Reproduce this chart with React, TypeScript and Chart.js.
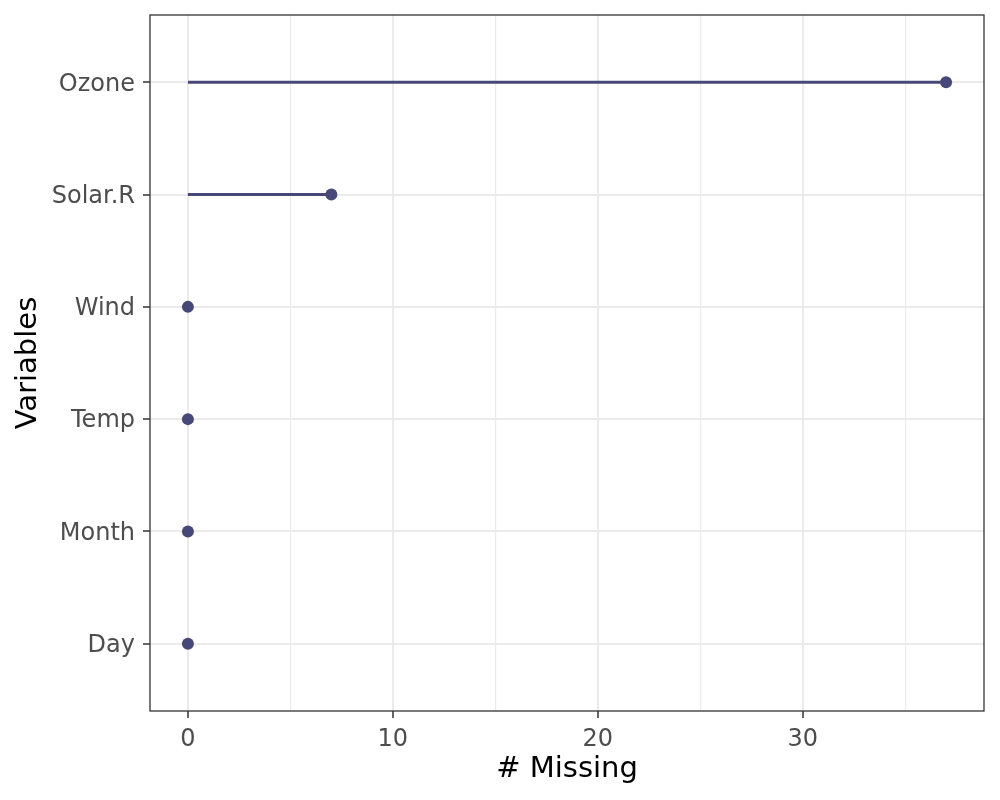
import React, { useEffect, useRef } from "react";
import { Chart, registerables } from "chart.js";

Chart.register(...registerables);

const variables = ["Ozone", "Solar.R", "Wind", "Temp", "Month", "Day"];
const nMissing = [37, 7, 0, 0, 0, 0];
const xTicks = [0, 5, 10, 15, 20, 25, 30, 35];
const xLabelTicks = [0, 10, 20, 30];

const LOLLI = "#484878";
const FONT = "'DejaVu Sans', sans-serif";

const borderPlugin = {
  id: "panelBorder",
  afterDatasetsDraw(chart: any) {
    const { ctx, chartArea } = chart;
    ctx.save();
    ctx.strokeStyle = "#333333";
    ctx.lineWidth = 1.3;
    ctx.strokeRect(chartArea.left, chartArea.top, chartArea.right - chartArea.left, chartArea.bottom - chartArea.top);
    ctx.restore();
  },
};

export default function App() {
  const ref = useRef<HTMLCanvasElement>(null);

  useEffect(() => {
    if (!ref.current) return;
    const segments = variables.map((v, i) => ({
      type: "line" as const,
      label: v,
      data: [
        { x: 0, y: i },
        { x: nMissing[i], y: i },
      ],
      showLine: true,
      borderColor: LOLLI,
      borderWidth: 3,
      pointRadius: 0,
    }));
    const points = {
      type: "scatter" as const,
      label: "points",
      data: variables.map((v, i) => ({ x: nMissing[i], y: i })),
      pointRadius: 6,
      pointBackgroundColor: LOLLI,
      pointBorderWidth: 0,
      backgroundColor: LOLLI,
    };
    const chart = new Chart(ref.current, {
      type: "scatter",
      data: { datasets: [...segments, points] as any },
      options: {
        animation: false,
        responsive: false,
        devicePixelRatio: 1,
        layout: { padding: { top: 15, right: 16, left: 0, bottom: 0 } },
        plugins: { legend: { display: false }, tooltip: { enabled: false } },
        scales: {
          x: {
            type: "linear",
            min: -1.85,
            max: 38.85,
            afterBuildTicks: (s: any) => {
              s.ticks = xTicks.map((v) => ({ value: v }));
            },
            afterFit: (s: any) => {
              s.height = 89;
              s.paddingLeft = 0;
              s.paddingRight = 0;
            },
            border: { display: false },
            grid: {
              color: "#EBEBEB",
              lineWidth: (c: any) => (xLabelTicks.includes(c.tick?.value) ? 2 : 1.2),
              tickColor: (c: any) => (xLabelTicks.includes(c.tick?.value) ? "#333333" : "rgba(0,0,0,0)"),
              tickLength: 7,
              tickWidth: 1.5,
            },
            ticks: {
              autoSkip: false,
              maxRotation: 0,
              padding: 7,
              color: "#4D4D4D",
              font: { family: FONT, size: 24 },
              callback: (v: any) => (xLabelTicks.includes(Number(v)) ? String(v) : ""),
            },
            title: {
              display: true,
              text: "# Missing",
              color: "#000000",
              font: { family: FONT, size: 29 },
              padding: { top: 0, bottom: 13 },
            },
          },
          y: {
            type: "linear",
            min: -0.6,
            max: 5.6,
            reverse: true,
            afterBuildTicks: (s: any) => {
              s.ticks = variables.map((_, i) => ({ value: i }));
            },
            afterFit: (s: any) => {
              s.width = 150;
              s.paddingTop = 0;
              s.paddingBottom = 0;
            },
            border: { display: false },
            grid: {
              color: "#EBEBEB",
              lineWidth: 2,
              tickColor: "#333333",
              tickLength: 7,
              tickWidth: 1.5,
            },
            ticks: {
              autoSkip: false,
              padding: 8,
              labelOffset: 2,
              color: "#4D4D4D",
              font: { family: FONT, size: 24 },
              callback: (v: any) => variables[Number(v)] ?? "",
            },
            title: {
              display: true,
              text: "Variables",
              color: "#000000",
              font: { family: FONT, size: 29 },
              padding: { top: 11, bottom: 0 },
            },
          },
        },
      },
      plugins: [borderPlugin],
    });
    return () => chart.destroy();
  }, []);

  return (
    <div style={{ position: "absolute", left: 0, top: 0, width: 1000, height: 800, background: "#fff" }}>
      <canvas ref={ref} width={1000} height={800} style={{ width: 1000, height: 800 }} />
    </div>
  );
}
